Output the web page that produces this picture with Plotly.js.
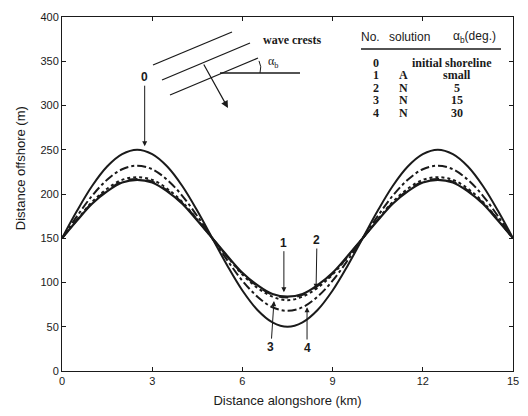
<!DOCTYPE html>
<html><head><meta charset="utf-8">
<script src="https://cdn.plot.ly/plotly-3.0.1.min.js"></script>
<style>html,body{margin:0;padding:0;background:#fff}</style>
</head><body><div id="chart" style="width:528px;height:416px"></div>
<script>
const alongshore = [0,0.5,1,1.5,2,2.5,3,3.5,4,4.5,5,5.5,6,6.5,7,7.5,8,8.5,9,9.5,10,10.5,11,11.5,12,12.5,13,13.5,14,14.5,15];
const shore0 = [150,181,209,231,245,250,245,231,209,181,150,119,91,69,55,50,55,69,91,119,150,181,209,231,245,250,245,231,209,181,150];
const shore1 = [150,170,189,203,213,216,213,203,189,170,150,130,111,97,87,84,87,97,111,130,150,170,189,203,213,216,213,203,189,170,150];
const shore2 = [150,171,190,204,214,217,214,204,190,171,150,129,110,96,86,83,86,96,110,129,150,171,190,204,214,217,214,204,190,171,150];
const shore3 = [150,171,191,206,216,219,216,206,191,171,150,129,109,94,84,80,84,94,109,129,150,171,191,206,216,219,216,206,191,171,150];
const shore4 = [150,175,198,216,228,232,228,216,198,175,150,125,102,84,72,68,72,84,102,125,150,175,198,216,228,232,228,216,198,175,150];
const xTicks = [0,3,6,9,12,15];
const yTicks = [0,50,100,150,200,250,300,350,400];
const tableHeader = ["No.", "solution", "α<sub>b</sub>(deg.)"];
const tableNo = ["0","1","2","3","4"];
const tableSol = ["", "A","N","N","N"];
const tableAng = ["", "small","5","15","30"];

const col = '#1a1a1a';
const mk = (y, dash, w) => ({x: alongshore, y: y, type:'scatter', mode:'lines',
  line:{color:col, width:w, dash:dash, shape:'spline'}, showlegend:false, hoverinfo:'skip'});
const data = [mk(shore0,'solid',2), mk(shore1,'solid',2.2), mk(shore2,'dash',2), mk(shore3,'dot',2), mk(shore4,'dashdot',2)];

const serif = 'Liberation Serif, serif';
const sans = 'Liberation Sans, Arial, sans-serif';
const ann = [];
const lab = [["0",2.75,254,2.75,332],["1",7.38,89,7.38,145],["2",8.45,93,8.48,148],["3",7.05,79,6.95,27],["4",8.15,72,8.15,26]];
lab.forEach(l => ann.push({x:l[1], y:l[2], ax:l[3], ay:l[4], axref:'x', ayref:'y', xref:'x', yref:'y',
  text:'<b>'+l[0]+'</b>', showarrow:true, arrowhead:2, arrowsize:1, arrowwidth:1, arrowcolor:col,
  font:{family:sans, size:12, color:col}}));
const P = (x,y,t,f,extra) => Object.assign({xref:'paper', yref:'paper', x:x, y:y, text:t, showarrow:false,
  xanchor:'center', yanchor:'middle', font:f, borderpad:0}, extra||{});
const hx = [0.683, 0.7716, 0.9157];
tableHeader.forEach((t,i)=>ann.push(P(hx[i], 0.9435, t, {family:sans, size:12, color:col})));
const ry = [0.870, 0.836, 0.7994, 0.7655, 0.7288];
const tf = {family:serif, size:12, color:col};
tableNo.forEach((t,i)=>{
  ann.push(P(0.6962, ry[i], '<b>'+t+'</b>', tf));
  if (i===0) {
    ann.push(P(0.8647, ry[i], '<b>initial shoreline</b>', tf));
  } else {
    ann.push(P(0.7561, ry[i], '<b>'+tableSol[i]+'</b>', tf));
    ann.push(P(0.8758, ry[i], '<b>'+tableAng[i]+'</b>', tf));
  }
});
ann.push(P(0.443, 0.935, '<b>wave crests</b>', {family:serif,size:12,color:col}, {xanchor:'left'}));
ann.push(P(0.468, 0.874, 'α<sub>b</sub>', {family:serif,size:12,color:col}));
ann.push({xref:'paper', yref:'paper', x:0.368, y:0.743, ax:-25, ay:-45, text:'', showarrow:true, arrowhead:2, arrowsize:1.2, arrowwidth:1.2, arrowcolor:col});
// y axis title placed as in the reference (slightly above centre)
ann.push(P(-0.093, 0.573, 'Distance offshore (m)', {family:sans,size:13,color:col}, {textangle:-90}));

const ln = (x0,y0,x1,y1)=>({type:'line', xref:'paper', yref:'paper', x0:x0,y0:y0,x1:x1,y1:y1, line:{color:col,width:1.3}});
const shapes = [
  ln(0.2018,0.8644,0.3769,0.9576),
  ln(0.2217,0.8220,0.4169,0.9266),
  ln(0.2395,0.7797,0.4346,0.8842),
  ln(0.3503,0.8418,0.5277,0.8418),
  {type:'path', xref:'paper', yref:'paper', path:'M 0.4368,0.876 Q 0.4435,0.860 0.4390,0.8418', line:{color:col,width:1}},
  ln(0.6630,0.9096,0.9734,0.9096)
];

const layout = {
  width:528, height:416, margin:{l:62, r:15, t:17, b:45},
  paper_bgcolor:'#fff', plot_bgcolor:'#fff',
  xaxis:{range:[0,15], tickvals:xTicks, ticks:'inside', ticklen:4, tickcolor:col, showline:true, linecolor:col, linewidth:1, mirror:'ticks',
    showgrid:false, zeroline:false, tickfont:{family:sans, size:11, color:col},
    title:{text:'Distance alongshore (km)', font:{family:sans, size:13, color:col}, standoff:9}},
  yaxis:{range:[0,400], tickvals:yTicks, ticks:'inside', ticklen:4, tickcolor:col, showline:true, linecolor:col, linewidth:1, mirror:'ticks',
    showgrid:false, zeroline:false, tickfont:{family:sans, size:11, color:col}},
  annotations: ann, shapes: shapes
};
Plotly.newPlot('chart', data, layout, {displayModeBar:false, staticPlot:true});
</script></body></html>
